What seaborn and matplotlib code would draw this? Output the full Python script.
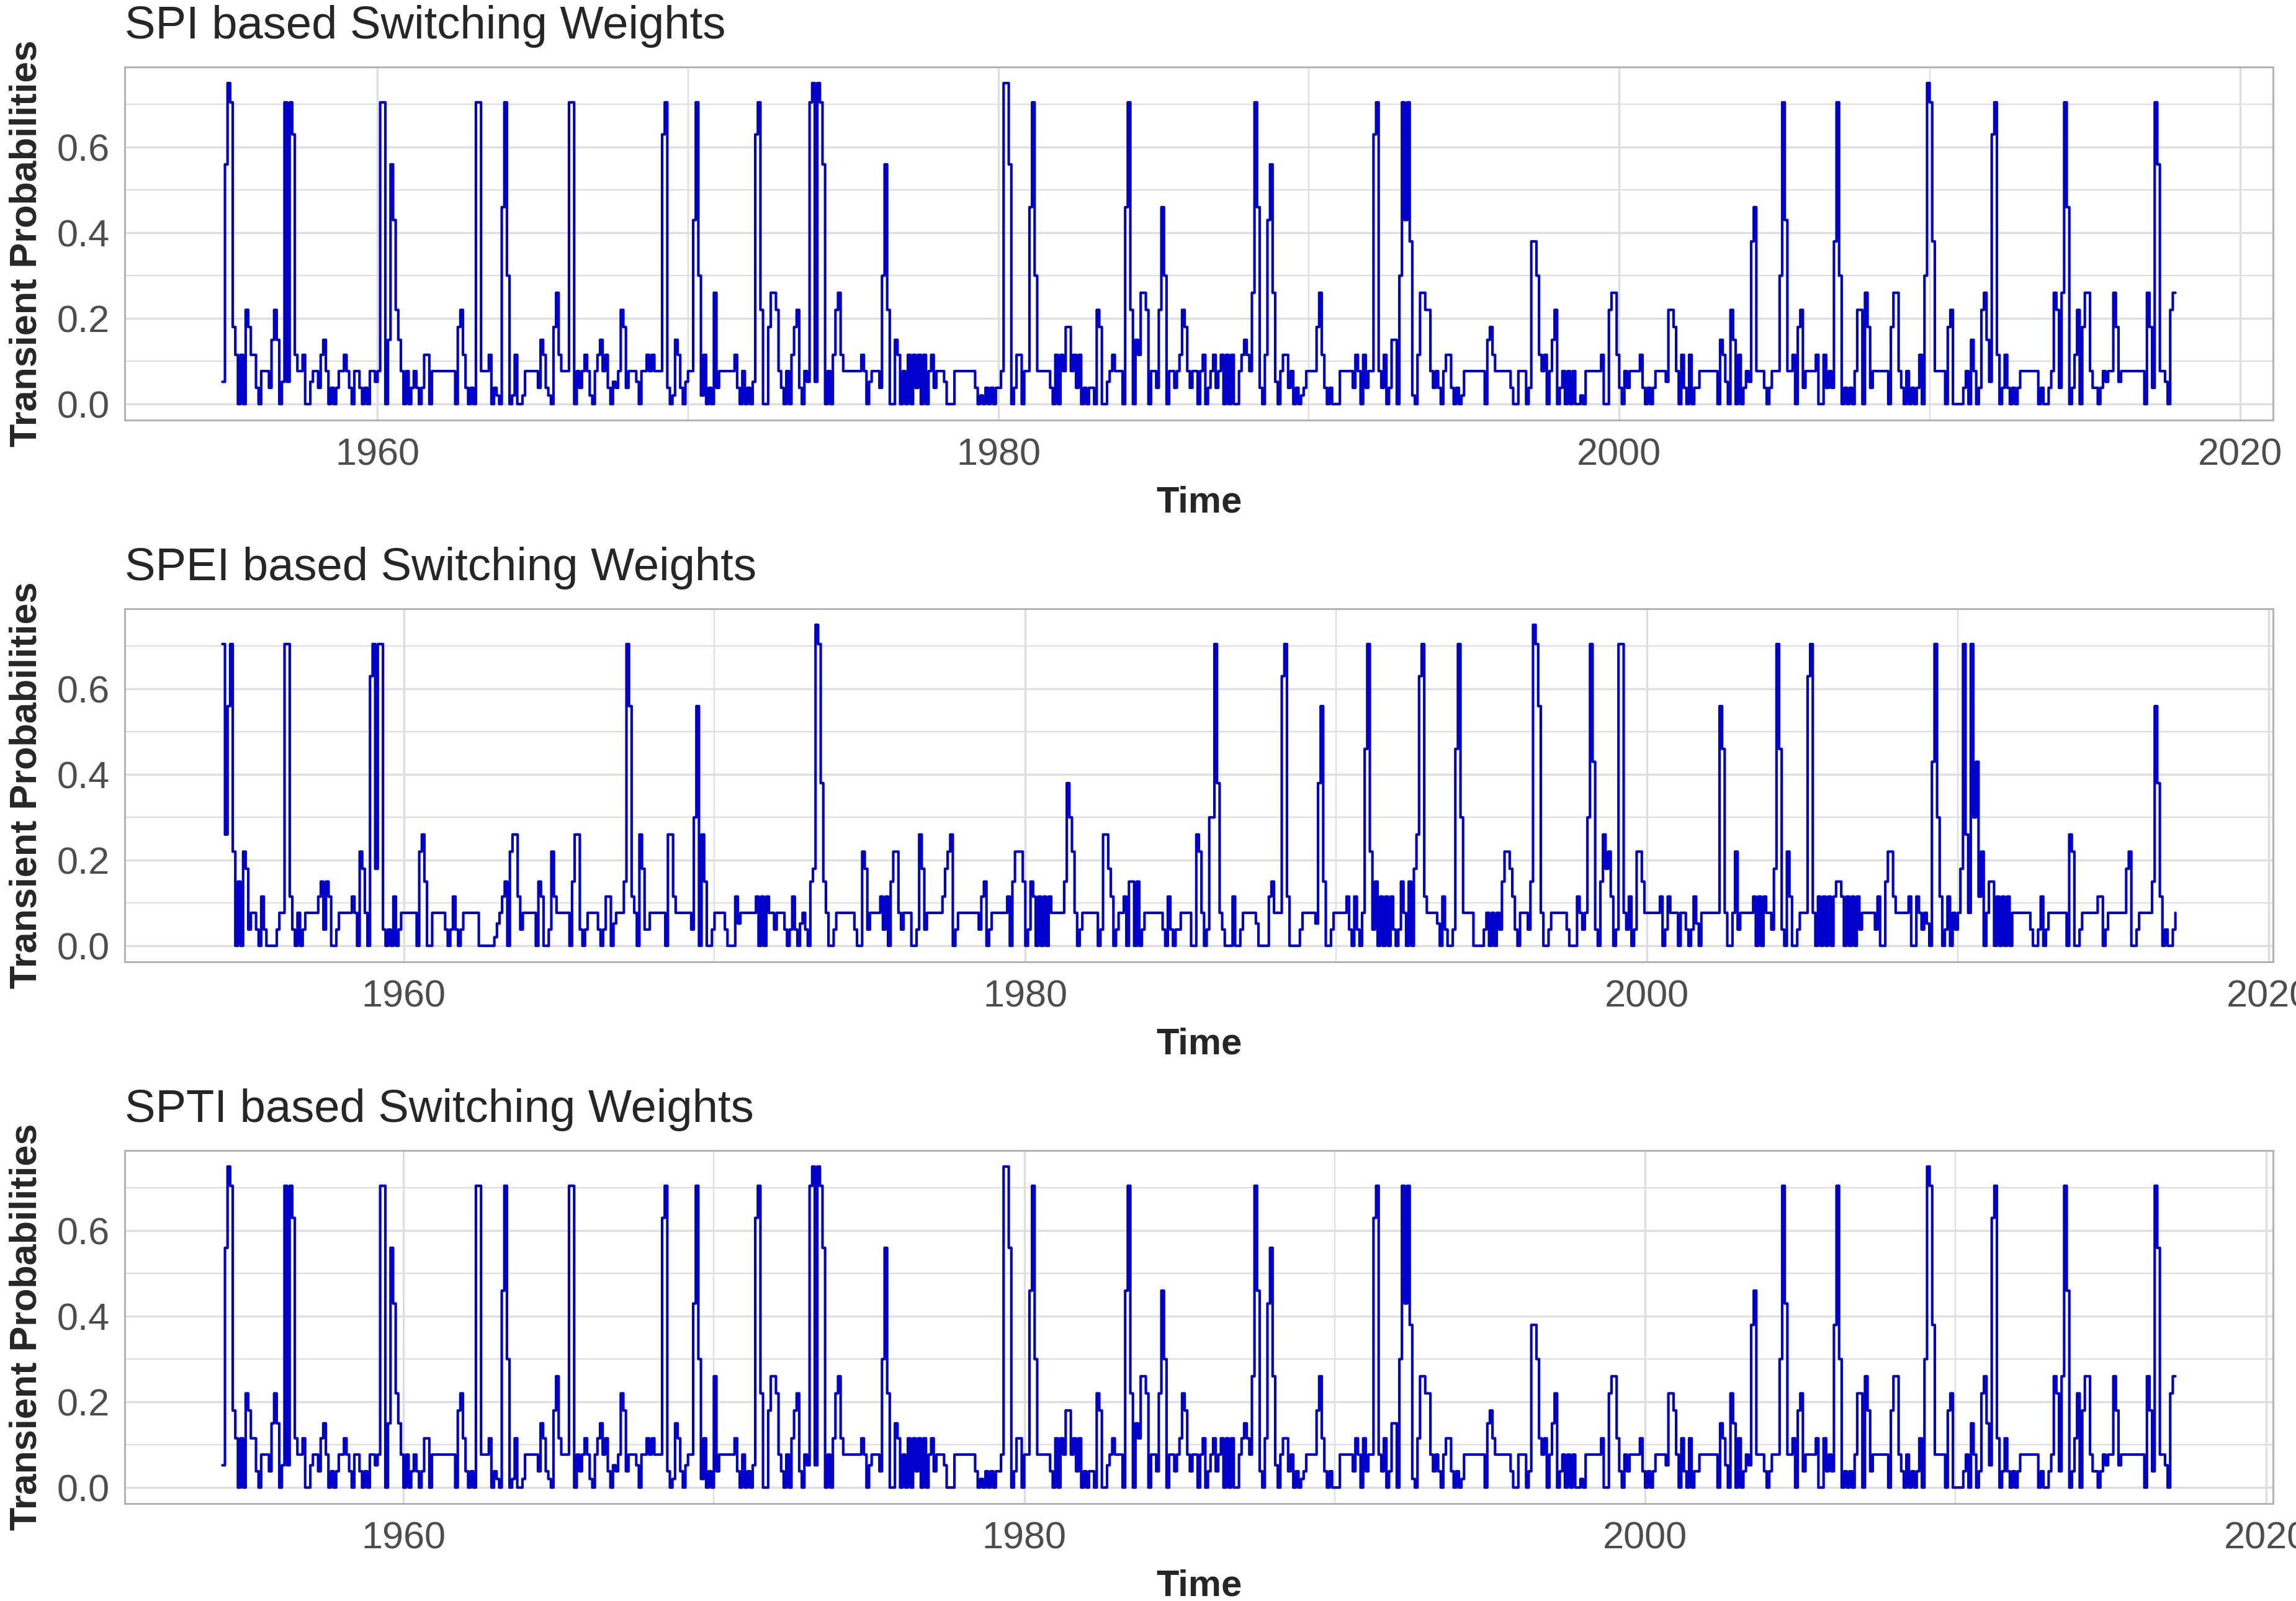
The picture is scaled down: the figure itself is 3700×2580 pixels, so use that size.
import numpy as np
import pandas as pd
import matplotlib
matplotlib.use("Agg")
import matplotlib.pyplot as plt
from matplotlib.ticker import MultipleLocator, FormatStrFormatter
import seaborn as sns

# step levels (transient probability values)
LEVELS = {"0": 0.0, "1": 0.02, "2": 0.038, "3": 0.052, "4": 0.077, "5": 0.115,
          "6": 0.15, "7": 0.18, "8": 0.22, "9": 0.26, "a": 0.30, "b": 0.38,
          "c": 0.43, "d": 0.46, "e": 0.56, "f": 0.63, "g": 0.705, "h": 0.75}

# SPI weights: one string of 12 monthly level codes per year, Jan 1955 - Dec 2017
SPI_CODES = [
    "3ehg75050875", "520444268603", "g3gf54450034", "425640202445", "420442020443",
    "4gg06ec86404", "024202550444", "444444078520", "20gg44450210", "dga015001444",
    "442652107954", "44gg04245410", "456452032487", "244430445454", "44fg20165203",
    "44cga1502092", "444444520402", "03fg80079984", "20405782043g", "h3hge0405895",
    "444444454034", "442ae8006504", "050525050452", "444300044444", "444201020202",
    "24hhe0255044", "dga444442050", "547745250202", "208700345444", "0dg806599804",
    "428da0442458", "742440450245", "245050500456", "549gd205ce93", "045524020124",
    "444795202000", "444442540524", "4fg42502660a", "gcgb10599884", "242045520201",
    "444444440675", "444444200444", "02bba5450468", "024040400104", "444445008995",
    "204244445202", "024444388740", "520502244444", "440653086050", "243bd4442024",
    "44agc4450782", "44445005242b", "ga0202048809", "724444440799", "4204020250ah",
    "gb4444078000", "024064028963", "fg5025202024", "444444020024", "9829gd025807",
    "994220243449", "734444444440", "972ge4430899",
]

# SPEI weights: 12-month chunks starting March 1954
SPEI_CODES = [
    "g9eg80608724", "420520000244", "gg5204024444", "456265002444", "445408740fg7",
    "gg2020502444", "444089600444", "442025202444", "444000000134", "560899524444",
    "406500285444", "440699202444", "420255034446", "ge5409722444", "444099544444",
    "42ae09600244", "442000534444", "445050544244", "420252034206", "7hgb64002444",
    "444420087244", "445250688424", "440029724444", "445789024444", "444425602444",
    "444506888602", "650505054444", "46ba84024444", "440299750244", "506606024444",
    "444205202244", "440098402aag", "b42000500244", "444300005644", "4fg500002444",
    "443be6002444", "445205204dg8", "260505052026", "406079fg5444", "43052002dga4",
    "444000024040", "426887520444", "26hge4002444", "44420005424a", "gc206978502g",
    "g42502886444", "444502544404", "420253044444", "44ed40048244", "444505054427",
    "gd2085002444", "fg4050505056", "650505052444", "442500688544", "444500542430",
    "cga502504247", "g94gac580466", "050505044444", "442002502444", "444409800244",
    "444455024444", "444780024444", "46eb5020024",
]

# SPTI panel shows the same weights as SPI, on a time index starting Mar 1954
PANELS = ["SPI", "SPEI", "SPTI"]
TITLES = ["SPI based Switching Weights", "SPEI based Switching Weights",
          "SPTI based Switching Weights"]
CODES = {"SPI": SPI_CODES, "SPEI": SPEI_CODES, "SPTI": SPI_CODES}
START = {"SPI": 1955.0, "SPEI": 1954 + 2 / 12, "SPTI": 1954 + 2 / 12}
X_TICKS = [1960, 1980, 2000, 2020]
Y_TICKS = [0.0, 0.2, 0.4, 0.6]


def decode(chunks):
    return np.array([LEVELS[c] for c in "".join(chunks)])


sns.set_style("white")
plt.rcParams["font.family"] = ["Liberation Sans", "DejaVu Sans"]

W, H = 3700, 2580
fig = plt.figure(figsize=(W / 100, H / 100), dpi=100)

for i, (name, title) in enumerate(zip(PANELS, TITLES)):
    vals = decode(CODES[name])
    t = START[name] + np.arange(len(vals)) / 12
    df = pd.DataFrame({"time": t, "value": vals})

    top = 108 + 873 * i
    ax = fig.add_axes([201 / W, 1 - (top + 569) / H, 3462 / W, 569 / H])
    sns.lineplot(data=df, x="time", y="value", ax=ax, drawstyle="steps-post",
                 color="#0000CD", linewidth=3.0, errorbar=None)

    # ggplot-like 5% expansion
    xpad = 0.05 * (t.max() - t.min())
    ax.set_xlim(t.min() - xpad, t.max() + xpad)
    ax.set_ylim(-0.05 * vals.max(), 1.05 * vals.max())

    ax.set_xticks(X_TICKS)
    ax.set_yticks(Y_TICKS)
    ax.xaxis.set_minor_locator(MultipleLocator(10))
    ax.yaxis.set_minor_locator(MultipleLocator(0.1))
    ax.yaxis.set_major_formatter(FormatStrFormatter("%.1f"))
    ax.grid(which="major", color="#DEDEDE", linewidth=2.4)
    ax.grid(which="minor", color="#DEDEDE", linewidth=1.6)
    ax.set_axisbelow(True)
    for s in ax.spines.values():
        s.set_color("#B3B3B3")
        s.set_linewidth(2.2)
    ax.tick_params(which="major", length=8.6, width=2.2, color="#B3B3B3",
                   labelsize=44, labelcolor="#4D4D4D")
    ax.tick_params(axis="x", which="major", pad=12)
    ax.tick_params(axis="y", which="major", pad=9)
    ax.tick_params(which="minor", length=0)

    ax.set_title(title, loc="left", fontsize=53.5, pad=33)
    ax.set_xlabel("Time", fontsize=43, fontweight="bold", labelpad=14)
    ax.set_ylabel("Transient Probabilities", fontsize=44, fontweight="bold",
                  labelpad=14)

fig.savefig("out.png", dpi=100)
plt.close(fig)
